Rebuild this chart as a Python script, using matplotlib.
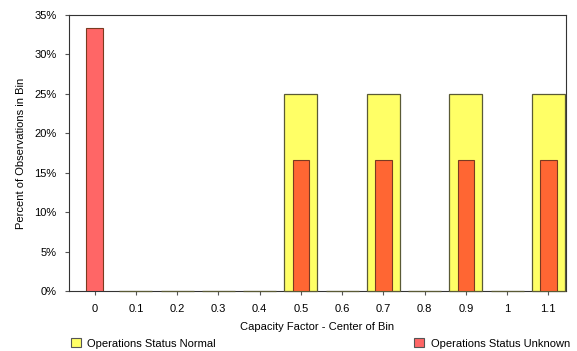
import matplotlib
matplotlib.use("Agg")
import matplotlib.pyplot as plt
from matplotlib.patches import Patch
import numpy as np

plt.rcParams['font.family'] = ['Liberation Sans', 'DejaVu Sans']

categories = ["0", "0.1", "0.2", "0.3", "0.4", "0.5", "0.6", "0.7", "0.8", "0.9", "1", "1.1"]
normal = [0, 0, 0, 0, 0, 25, 0, 25, 0, 25, 0, 25]
unknown = [33.33, 0, 0, 0, 0, 16.67, 0, 16.67, 0, 16.67, 0, 16.67]

YELLOW = "#FFFF66"
RED = "#FF6666"
ORANGE = "#FF6633"
FS = 8

fig = plt.figure(figsize=(5.77, 3.51), dpi=100)
ax = fig.add_axes([69/577, 1-291/351, (566-69)/577, (291-15)/351])

x = np.arange(len(categories))
nv = np.array(normal)
uvals = np.array(unknown)
nmask = ~((nv == 0) & (uvals > 0))
ax.bar(x[nmask], nv[nmask], width=0.8, color=YELLOW, edgecolor="#5a5a35", linewidth=0.9,
       zorder=3, clip_on=False)
ucolors = [ORANGE if n > 0 else RED for n in normal]
mask = uvals > 0
ax.bar(x[mask], uvals[mask], width=0.4, color=[c for c, m in zip(ucolors, mask) if m],
       edgecolor="#7a3a20", linewidth=0.8, zorder=4)

ax.set_xlim(-0.62, 11.43)
ax.set_ylim(0, 35)
ax.set_xticks(x)
ax.set_xticklabels(categories, fontsize=FS)
ax.set_yticks(np.arange(0, 36, 5))
ax.set_yticklabels([f"{v}%" for v in range(0, 36, 5)], fontsize=FS)
ax.tick_params(axis='both', length=3, width=0.8, color="#555555", pad=6)
for s in ax.spines.values():
    s.set_linewidth(0.8)
    s.set_color("#333333")
ax.set_xlabel("Capacity Factor - Center of Bin", fontsize=FS, labelpad=6)
ax.set_ylabel("Percent of Observations in Bin", fontsize=FS, labelpad=6)

leg1 = fig.legend(handles=[Patch(facecolor=YELLOW, edgecolor="#555555", linewidth=0.8)],
                  labels=["Operations Status Normal"], loc="lower left",
                  bbox_to_anchor=(0.105, -0.022), frameon=False, fontsize=FS,
                  handlelength=0.9, handleheight=0.9, handletextpad=0.6)
leg2 = fig.legend(handles=[Patch(facecolor=RED, edgecolor="#555555", linewidth=0.8)],
                  labels=["Operations Status Unknown"], loc="lower right",
                  bbox_to_anchor=(1.005, -0.022), frameon=False, fontsize=FS,
                  handlelength=0.9, handleheight=0.9, handletextpad=0.6)

fig.savefig("out.png", dpi=100)
